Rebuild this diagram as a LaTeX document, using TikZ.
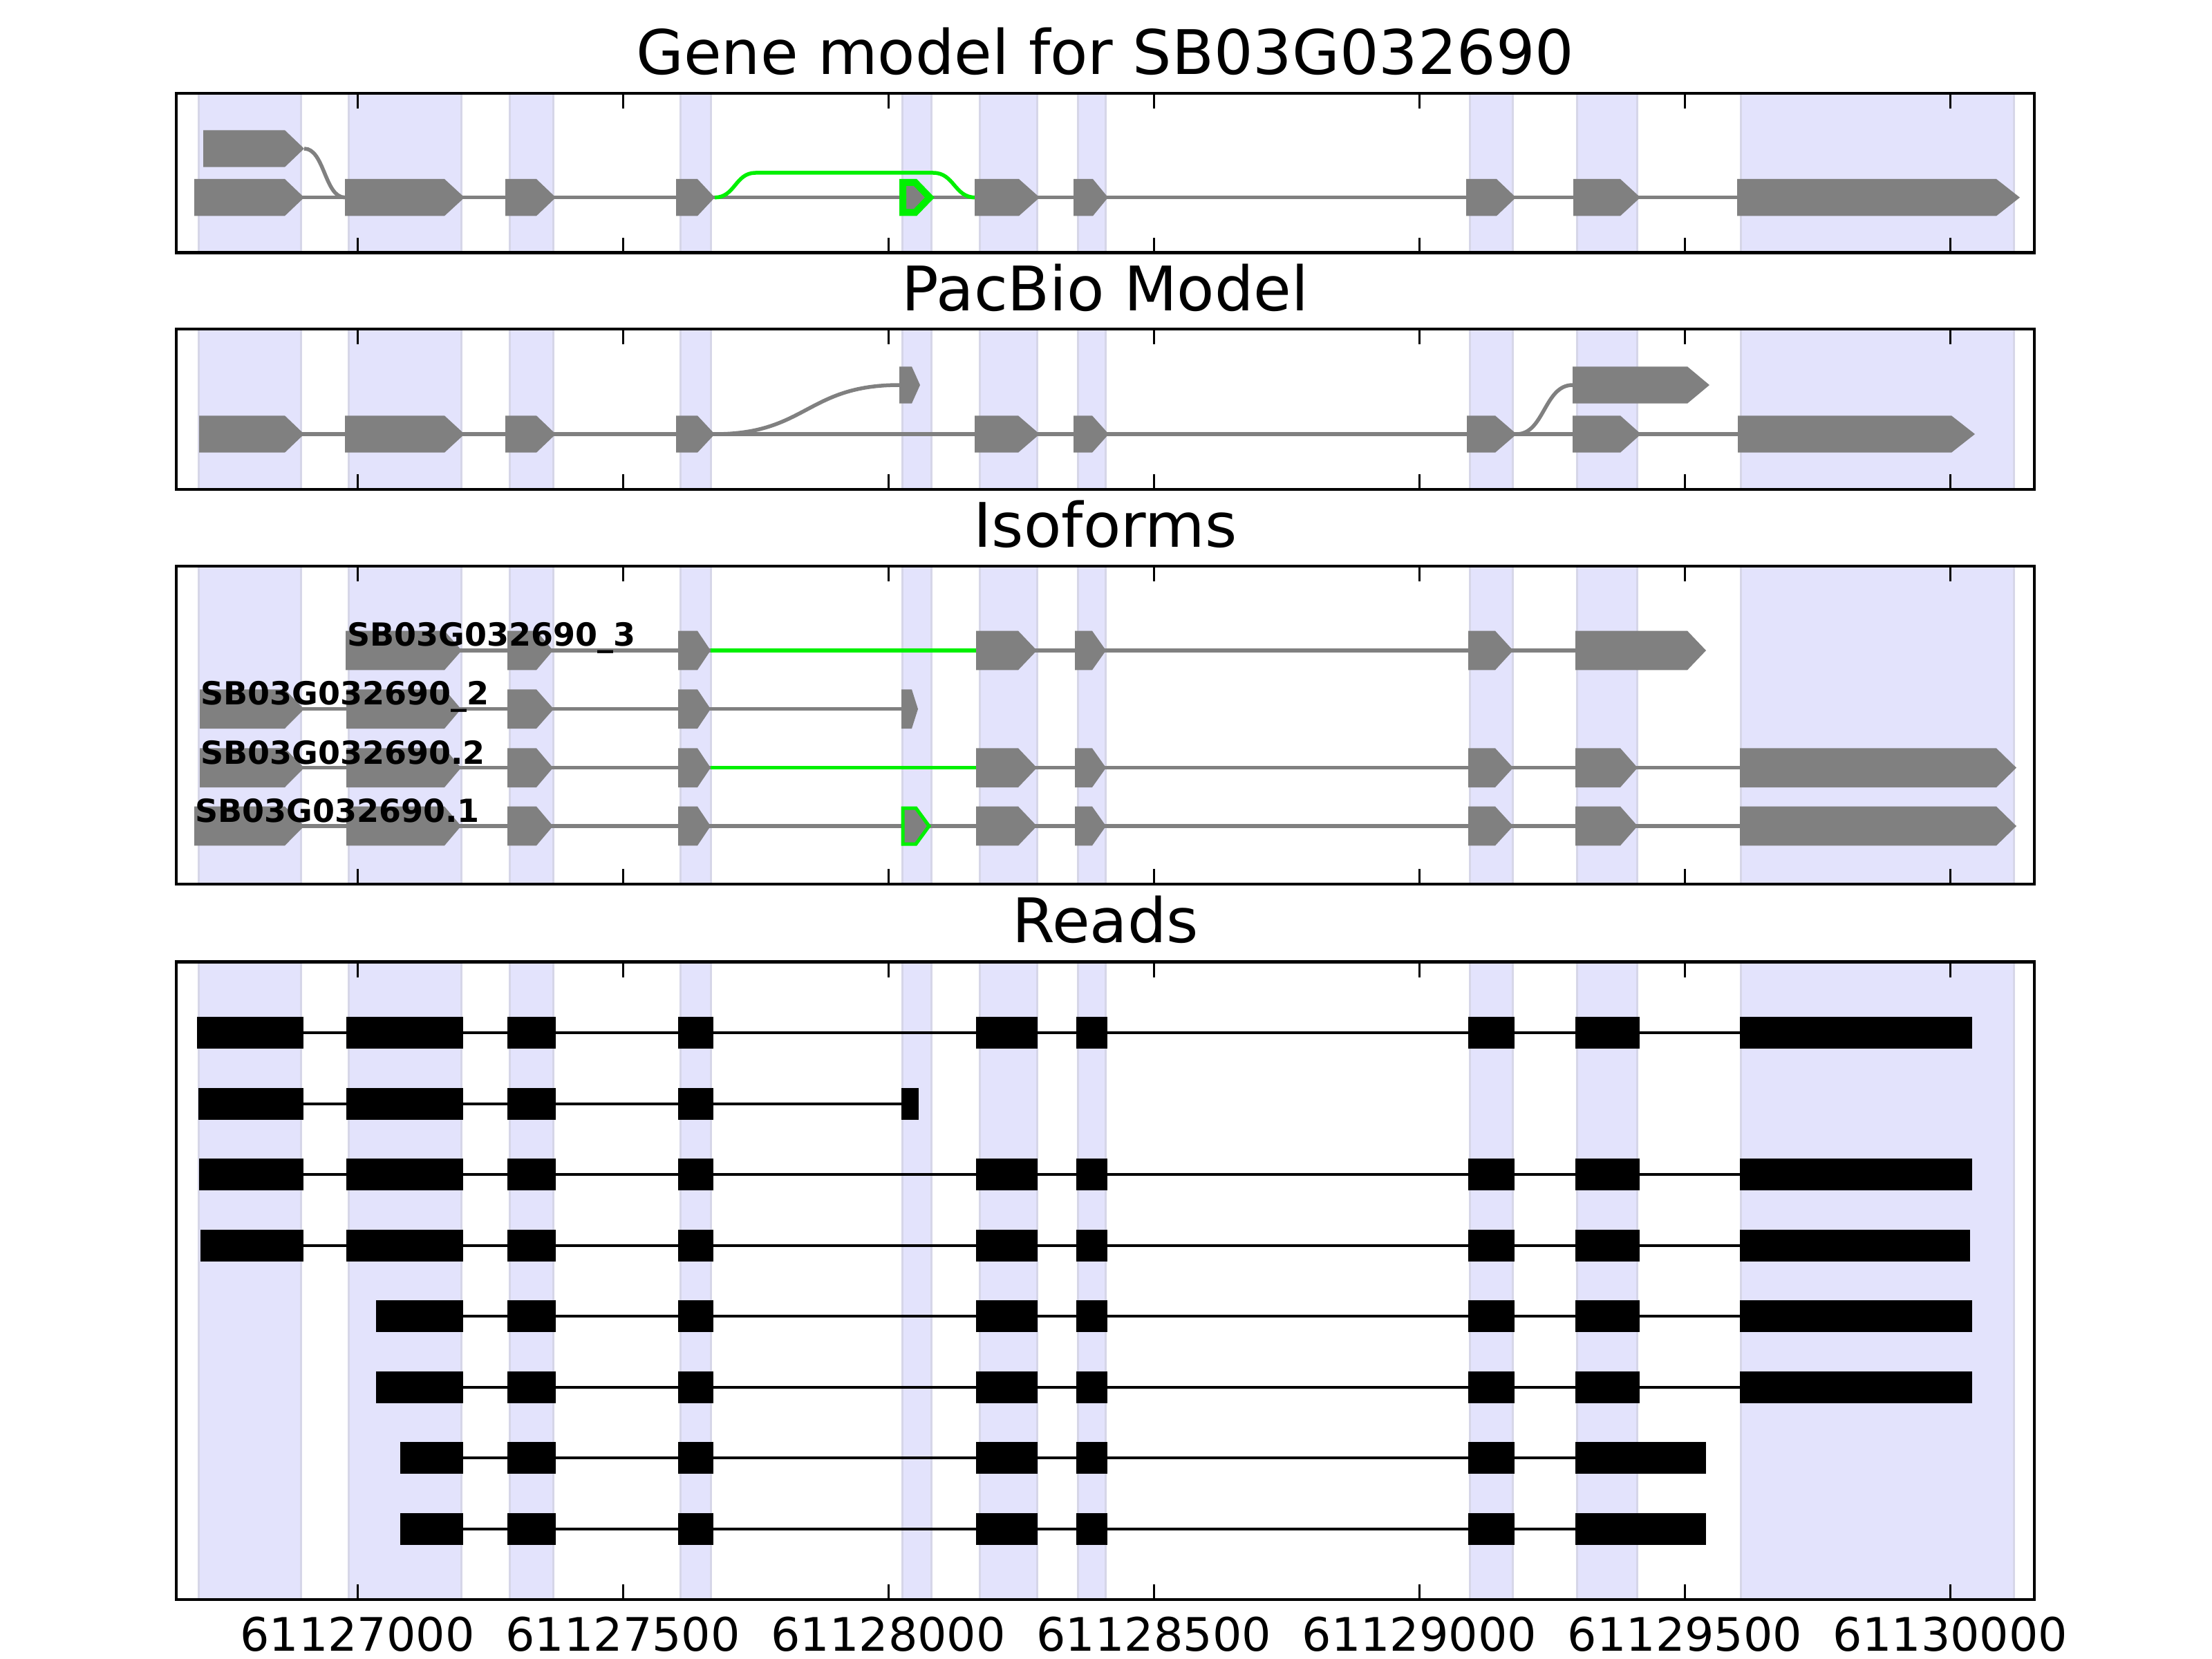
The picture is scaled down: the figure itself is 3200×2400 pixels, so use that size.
\documentclass[tikz,border=0pt]{standalone}
\usepackage{fontspec}
\setmainfont{DejaVu Sans}
\definecolor{shade}{RGB}{227,227,252}
\definecolor{shadeedge}{RGB}{214,214,232}
\definecolor{exongray}{RGB}{128,128,128}
\definecolor{altgreen}{RGB}{0,240,0}
\newcommand\gmTitleFont{\fontsize{88.9}{100}\selectfont}
\newcommand\gmTickFont{\fontsize{66.7}{75}\selectfont}
\newcommand\gmLabFont{\fontsize{46}{52}\selectfont\bfseries}
% exon arrow: body start, body end, tip, centre y, half height
\newcommand\gmExon[5]{\fill[exongray] (#1,{#4-#5}) -- (#2,{#4-#5}) -- (#3,#4) -- (#2,{#4+#5}) -- (#1,{#4+#5}) -- cycle;}
% read block: start, end, centre y
\newcommand\gmBlock[3]{\fill[black] (#1,{#3-23}) rectangle (#2,{#3+23});}
\begin{document}
\begin{tikzpicture}[x=1pt,y=-1pt,
  grayline/.style={draw=exongray,line width=5.5},
  greenline/.style={draw=altgreen,line width=5.5},
  readline/.style={draw=black,line width=4},
  tickmark/.style={draw=black,line width=3},
  frame/.style={draw=black,line width=4.5},
  paneltitle/.style={anchor=base,inner sep=0,font=\gmTitleFont},
  ticklabel/.style={anchor=base,inner sep=0,font=\gmTickFont},
  isolabel/.style={anchor=base west,inner sep=0,font=\gmLabFont}]
\useasboundingbox (0,0) rectangle (3200,2400);
\fill[white] (0,0) rectangle (3200,2400);

% ---------- shaded consensus exons in every panel ----------
\foreach \t/\b in {135/365.6,476/708,819/1279,1391.5/2314}{
  \foreach \l/\r in {287/435,504/667,737/800,984/1028,1305/1347,1417/1500,1559/1599,2126/2188,2281/2368,2518/2913}{
    \filldraw[fill=shade,draw=shadeedge,line width=3] (\l,\t) rectangle (\r,\b);
  }
}

% ---------- panel 1: gene model ----------
\node[paneltitle] (t1) at (1599,107.3) {Gene model for SB03G032690};
\draw[grayline] (281,285.7) -- (2513,285.7);
\draw[grayline] (440,215) .. controls (469.5,215) and (469.5,285.7) .. (499,285.7);
\draw[greenline] (1034,285.7) .. controls (1063.5,285.7) and (1063.5,250) .. (1093,250)
  -- (1350,250) .. controls (1380.5,250) and (1380.5,285.7) .. (1411,285.7);
\gmExon{294}{412}{440}{215}{26.7}
\foreach \a/\b/\c in {281/412/440,499/643/672,731/776/804,978/1009/1034,1410/1474/1504,1553/1581/1603,2121/2165/2193,2276/2344/2373,2513/2888/2922}{
  \gmExon{\a}{\b}{\c}{285.7}{26.7}
}
\filldraw[fill=exongray,draw=altgreen,line width=10] (1306,264) -- (1324,264) -- (1345,285.7) -- (1324,307.4) -- (1306,307.4) -- cycle;

% ---------- panel 2: PacBio model ----------
\node[paneltitle] (t2) at (1599,449) {PacBio Model};
\draw[grayline] (288,628) -- (2514,628);
\draw[grayline] (1034,628) .. controls (1167,628) and (1167,557) .. (1301,557);
\draw[grayline] (2194,628) .. controls (2234,628) and (2234,557) .. (2275,557);
\foreach \a/\b/\c in {288/412/440,499/643/672,731/776/804,978/1009/1034,1410/1473/1504,1553/1580/1604,2122/2163/2194,2275/2344/2374,2514/2823/2857}{
  \gmExon{\a}{\b}{\c}{628}{26.7}
}
\gmExon{1301}{1319}{1331}{557}{26.7}
\gmExon{2275}{2441}{2473}{557}{26.7}

% ---------- panel 3: isoforms ----------
\node[paneltitle] (t3) at (1599,791.3) {Isoforms};
% row A  (_3)
\draw[grayline] (500,941) -- (2279,941);
\draw[greenline] (1028,941) -- (1416,941);
\foreach \a/\b/\c in {500/643/668,734/776/800,981/1009/1028,1412/1473/1500,1555/1580/1600,2124/2163/2189,2279/2441/2468}{
  \gmExon{\a}{\b}{\c}{941}{28.3}
}
% row B  (_2)
\draw[grayline] (289,1025.7) -- (1304,1025.7);
\foreach \a/\b/\c in {289/412/440,501/643/667,734/776/801,981/1009/1028,1304/1319/1328}{
  \gmExon{\a}{\b}{\c}{1025.7}{28.3}
}
% row C  (.2)
\draw[grayline] (289,1110.7) -- (2517,1110.7);
\draw[greenline] (1028,1110.7) -- (1416,1110.7);
\foreach \a/\b/\c in {289/412/440,501/643/667,734/776/800,981/1009/1028,1412/1473/1500,1555/1580/1600,2124/2163/2189,2279/2344/2369,2517/2888/2917}{
  \gmExon{\a}{\b}{\c}{1110.7}{28.3}
}
% row D  (.1)
\draw[grayline] (281,1195) -- (2517,1195);
\foreach \a/\b/\c in {281/412/440,501/643/667,734/776/800,981/1009/1028,1412/1473/1500,1555/1580/1600,2124/2163/2189,2279/2344/2369,2517/2888/2917}{
  \gmExon{\a}{\b}{\c}{1195}{28.3}
}
\filldraw[fill=exongray,draw=altgreen,line width=5] (1306,1169) -- (1325,1169) -- (1344,1195) -- (1325,1221) -- (1306,1221) -- cycle;
\node[isolabel] (l3) at (502,934) {SB03G032690\_3};
\node[isolabel] (l2) at (290,1019.3) {SB03G032690\_2};
\node[isolabel] (l22) at (290,1105) {SB03G032690.2};
\node[isolabel] (l1) at (282,1189) {SB03G032690.1};

% ---------- panel 4: reads ----------
\node[paneltitle] (t4) at (1599,1363.8) {Reads};
% row 1
\draw[readline] (285,1494) -- (2853,1494);
\foreach \a/\b in {285/439,501/670,734/804,981/1032,1412/1501,1557/1602,2124/2191,2279/2372,2517/2853}{\gmBlock{\a}{\b}{1494}}
% row 2
\draw[readline] (287,1596.5) -- (1329,1596.5);
\foreach \a/\b in {287/439,501/670,734/804,981/1032,1304/1329}{\gmBlock{\a}{\b}{1596.5}}
% row 3
\draw[readline] (288,1699) -- (2853,1699);
\foreach \a/\b in {288/439,501/670,734/804,981/1032,1412/1501,1557/1602,2124/2191,2279/2372,2517/2853}{\gmBlock{\a}{\b}{1699}}
% row 4
\draw[readline] (290,1801.5) -- (2850,1801.5);
\foreach \a/\b in {290/439,501/670,734/804,981/1032,1412/1501,1557/1602,2124/2191,2279/2372,2517/2850}{\gmBlock{\a}{\b}{1801.5}}
% rows 5 and 6
\foreach \y in {1904,2006.5}{
  \draw[readline] (544,\y) -- (2853,\y);
  \foreach \a/\b in {544/670,734/804,981/1032,1412/1501,1557/1602,2124/2191,2279/2372,2517/2853}{\gmBlock{\a}{\b}{\y}}
}
% rows 7 and 8
\foreach \y in {2109,2211.5}{
  \draw[readline] (579,\y) -- (2468,\y);
  \foreach \a/\b in {579/670,734/804,981/1032,1412/1501,1557/1602,2124/2191,2279/2468}{\gmBlock{\a}{\b}{\y}}
}

% ---------- frames and ticks ----------
\foreach \t/\b in {135/365.6,476/708,819/1279,1391.5/2314}{
  \foreach \x in {517,901.1,1285.2,1669.3,2053.4,2437.5,2821.6}{
    \draw[tickmark] (\x,\t) -- (\x,{\t+22});
    \draw[tickmark] (\x,\b) -- (\x,{\b-22});
  }
  \draw[frame] (255,\t) rectangle (2943,\b);
}
\foreach \x/\lab in {517/61127000,901.1/61127500,1285.2/61128000,1669.3/61128500,2053.4/61129000,2437.5/61129500,2821.6/61130000}{
  \node[ticklabel] at (\x,2388) {\lab};
}
\end{tikzpicture}
\end{document}
